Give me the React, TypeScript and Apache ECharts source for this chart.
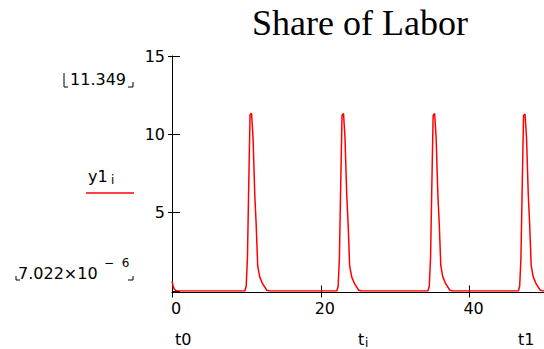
import React, { useEffect, useRef } from "react";
import * as echarts from "echarts";

// time values t_i and share of labor y1_i
const tValues = [
  0, 0.15, 0.3, 0.5, 0.8,
  9.79, 9.97, 10.14, 10.29, 10.49, 10.69, 10.89, 11.13, 11.31, 11.52, 11.79, 12.19, 12.74, 13.09,
  22.15, 22.33, 22.5, 22.65, 22.85, 23.05, 23.25, 23.49, 23.67, 23.88, 24.15, 24.55, 25.1, 25.45,
  34.4, 34.58, 34.75, 34.9, 35.1, 35.3, 35.5, 35.74, 35.92, 36.13, 36.4, 36.8, 37.35, 37.7,
  46.55, 46.73, 46.9, 47.05, 47.25, 47.45, 47.65, 47.89, 48.07, 48.28, 48.55, 48.95, 49.5, 49.85,
  50,
];
const yValues = [
  0.62, 0.32, 0.12, 0.03, 0.0,
  0.0, 0.3, 2.1, 6.1, 11.25, 11.349, 9.8, 6.1, 4.3, 1.6, 0.9, 0.45, 0.05, 0.0,
  0.0, 0.3, 2.1, 6.1, 11.2, 11.34, 9.8, 6.1, 4.3, 1.6, 0.9, 0.45, 0.05, 0.0,
  0.0, 0.3, 2.1, 6.1, 11.2, 11.33, 9.8, 6.1, 4.3, 1.6, 0.9, 0.45, 0.05, 0.0,
  0.0, 0.3, 2.1, 6.1, 11.2, 11.3, 9.8, 6.1, 4.3, 1.6, 0.9, 0.45, 0.05, 0.0,
  0.0,
];
const xRange = [0, 50];
const yRange = [0, 15];
const xTickStep = 20;
const yTickStep = 5;
const titleText = "Share of Labor";
const maxLabel = "11.349";
const minLabelMain = "7.022×10";
const minLabelExp = "−  6";

const SANS = "DejaVu Sans";
const SERIF = "Liberation Serif";

export default function App() {
  const ref = useRef<HTMLDivElement>(null);
  useEffect(() => {
    if (!ref.current) return;
    const chart = echarts.init(ref.current, undefined, { renderer: "svg" });
    const data = tValues.map((t, i) => [t, yValues[i]]);
    const lab = { fontFamily: SANS, fontSize: 16, color: "#000" };
    const black = { stroke: "#000", lineWidth: 1, fill: null };
    chart.setOption({
      animation: false,
      backgroundColor: "#fff",
      grid: { left: 172, right: -6, top: 56, bottom: 58, containLabel: false },
      xAxis: [
        {
          type: "value",
          min: xRange[0],
          max: xRange[1],
          interval: xTickStep,
          position: "bottom",
          offset: 1.5,
          axisLine: { onZero: false, lineStyle: { color: "#000", width: 1 } },
          axisTick: { show: true, inside: false, length: 5, lineStyle: { color: "#000" } },
          axisLabel: { ...lab, margin: 8, padding: [0, 0, 0, 8], showMaxLabel: false },
          splitLine: { show: false },
        },
        {
          type: "value",
          min: xRange[0],
          max: xRange[1],
          interval: xTickStep,
          position: "bottom",
          offset: 1.5,
          axisLine: { show: false, onZero: false },
          axisTick: { show: true, inside: true, length: 7, lineStyle: { color: "#000" } },
          axisLabel: { show: false },
          splitLine: { show: false },
        },
      ],
      yAxis: [
        {
          type: "value",
          min: yRange[0],
          max: yRange[1],
          interval: yTickStep,
          position: "left",
          axisLine: { show: true, onZero: false, lineStyle: { color: "#000", width: 1 } },
          axisTick: { show: true, inside: false, length: 4, lineStyle: { color: "#000" } },
          axisLabel: { ...lab, margin: 7, showMinLabel: false },
          splitLine: { show: false },
        },
        {
          type: "value",
          min: yRange[0],
          max: yRange[1],
          interval: yTickStep,
          position: "left",
          axisLine: { show: false, onZero: false },
          axisTick: { show: true, inside: true, length: 8, lineStyle: { color: "#000" } },
          axisLabel: { show: false },
          splitLine: { show: false },
        },
      ],
      series: [
        {
          type: "line",
          name: "y1",
          data,
          xAxisIndex: 0,
          yAxisIndex: 0,
          showSymbol: false,
          symbol: "none",
          lineStyle: { color: "#ff0000", width: 1.5 },
          z: 5,
        },
      ],
      graphic: [
        {
          type: "text",
          x: 360,
          y: 23,
          style: {
            text: titleText,
            font: `36px "${SERIF}"`,
            fill: "#000",
            align: "center",
            verticalAlign: "middle",
          },
        },
        {
          type: "text",
          x: 98,
          y: 79,
          style: { text: maxLabel, font: `16px "${SANS}"`, fill: "#000", align: "center", verticalAlign: "middle" },
        },
        { type: "polyline", shape: { points: [[64, 73], [64, 87], [68, 87]] }, style: black },
        { type: "polyline", shape: { points: [[128, 87], [133, 87], [133, 82]] }, style: black },
        {
          type: "text",
          x: 18,
          y: 273,
          style: { text: minLabelMain, font: `16px "${SANS}"`, fill: "#000", align: "left", verticalAlign: "middle" },
        },
        {
          type: "text",
          x: 104,
          y: 263,
          style: { text: minLabelExp, font: `12px "${SANS}"`, fill: "#000", align: "left", verticalAlign: "middle" },
        },
        { type: "polyline", shape: { points: [[16, 276], [16, 280], [20, 280]] }, style: black },
        { type: "polyline", shape: { points: [[128, 280], [133, 280], [133, 276]] }, style: black },
        {
          type: "text",
          x: 88,
          y: 176.5,
          style: { text: "y1", font: `16px "${SANS}"`, fill: "#000", align: "left", verticalAlign: "middle" },
        },
        {
          type: "text",
          x: 111,
          y: 180,
          style: { text: "i", font: `12px "${SANS}"`, fill: "#000", align: "left", verticalAlign: "middle" },
        },
        { type: "line", shape: { x1: 86, y1: 193, x2: 134, y2: 193 }, style: { stroke: "#ff0000", lineWidth: 1.5 } },
        {
          type: "text",
          x: 175,
          y: 339,
          style: { text: "t0", font: `16px "${SANS}"`, fill: "#000", align: "left", verticalAlign: "middle" },
        },
        {
          type: "text",
          x: 358,
          y: 339,
          style: { text: "t", font: `16px "${SANS}"`, fill: "#000", align: "left", verticalAlign: "middle" },
        },
        {
          type: "text",
          x: 365,
          y: 343,
          style: { text: "i", font: `12px "${SANS}"`, fill: "#000", align: "left", verticalAlign: "middle" },
        },
        {
          type: "text",
          x: 518,
          y: 339,
          style: { text: "t1", font: `16px "${SANS}"`, fill: "#000", align: "left", verticalAlign: "middle" },
        },
      ],
    });
    return () => chart.dispose();
  }, []);
  return (
    <div
      ref={ref}
      style={{ position: "fixed", left: 0, top: 0, width: 544, height: 349, background: "#fff" }}
    />
  );
}
